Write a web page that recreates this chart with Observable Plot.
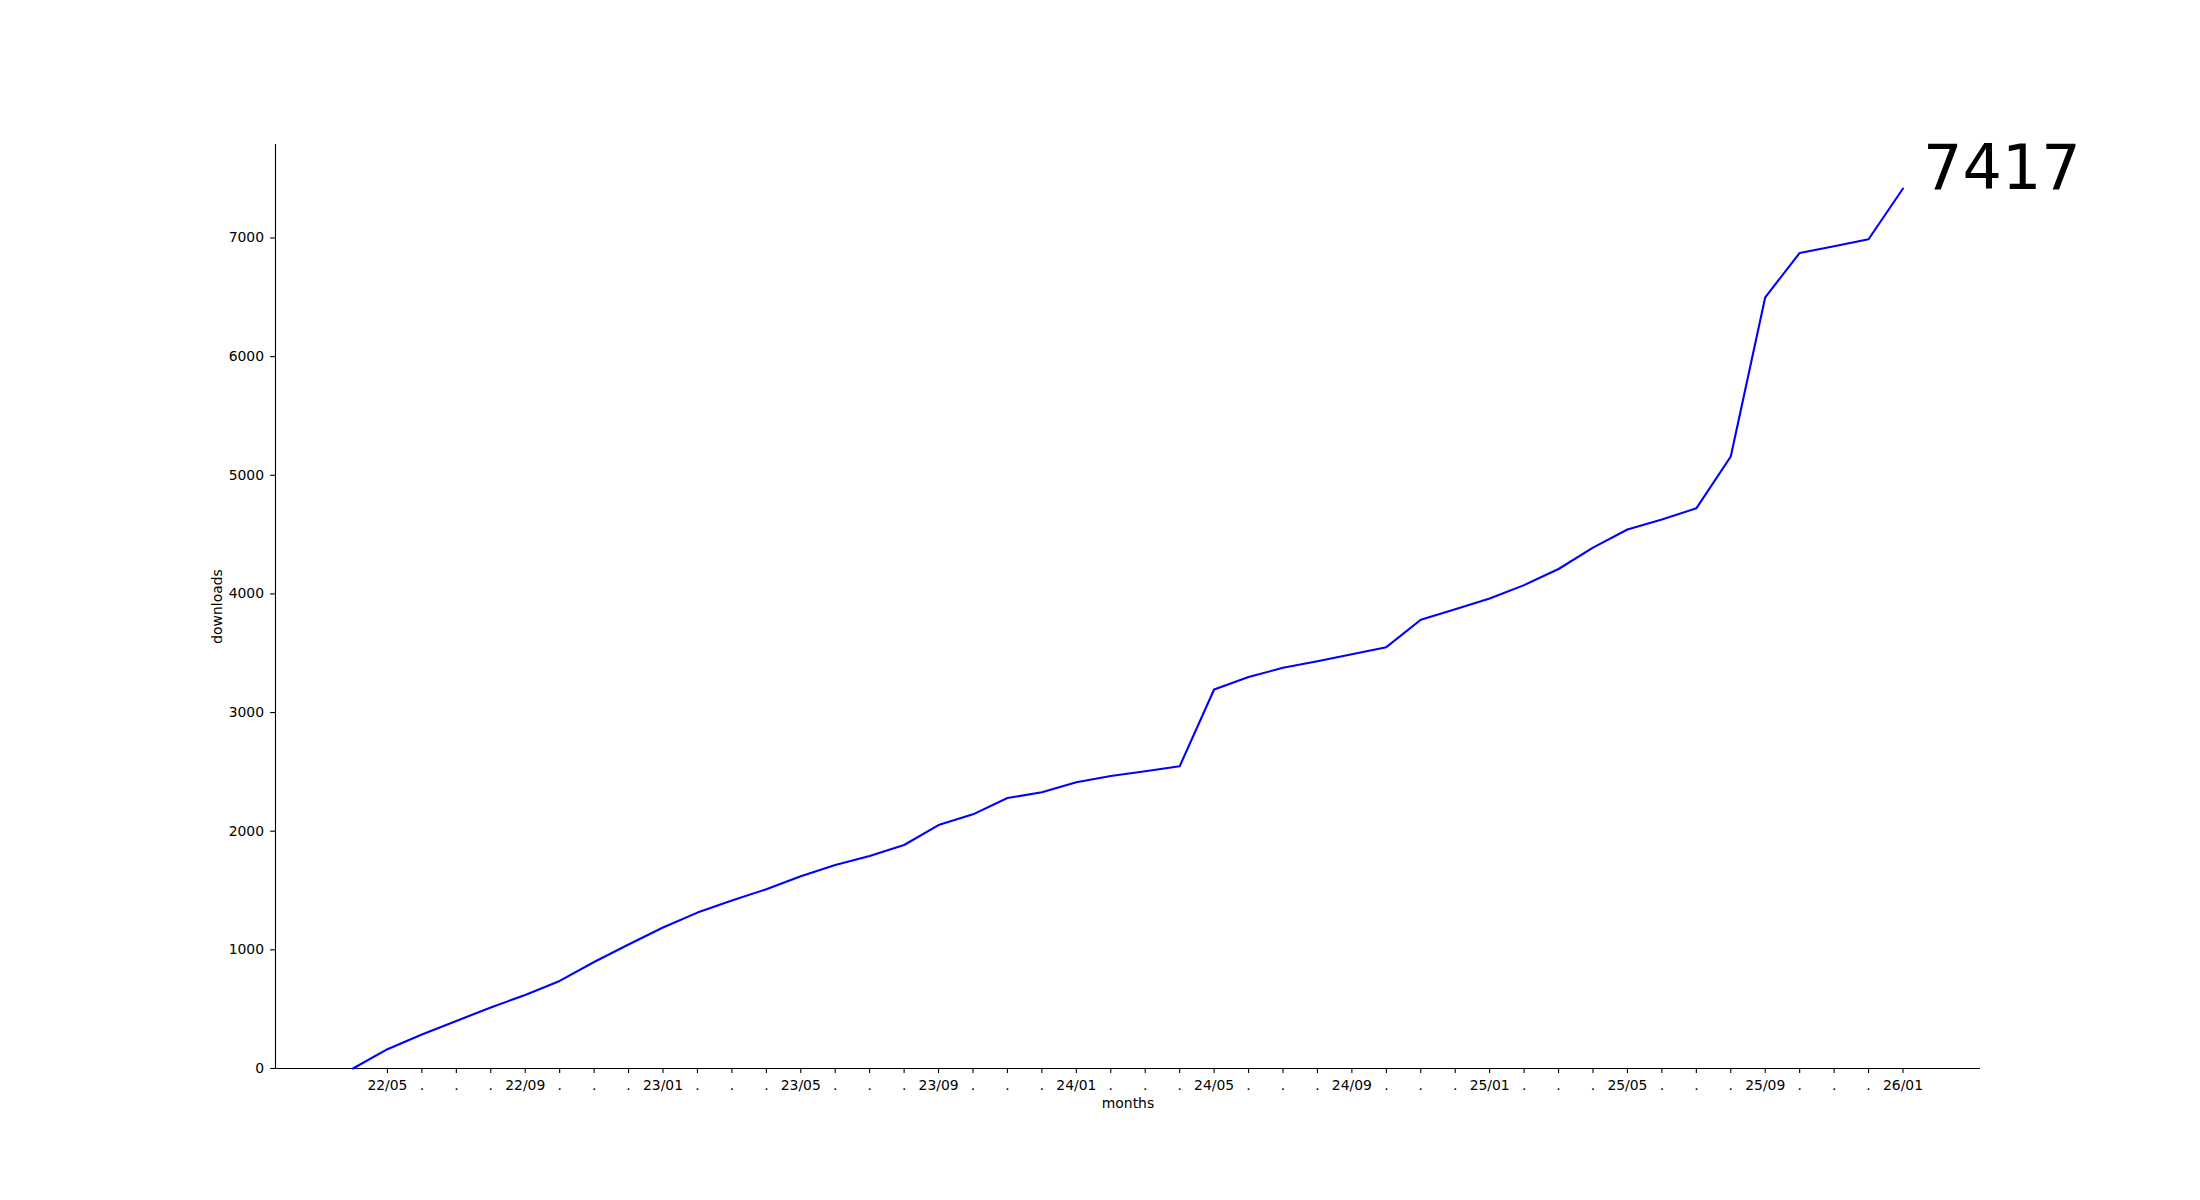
<!DOCTYPE html>
<html>
<head>
<meta charset="utf-8">
<script src="https://cdn.jsdelivr.net/npm/d3@7"></script>
<script src="https://cdn.jsdelivr.net/npm/@observablehq/plot@0.6"></script>
<style>
  html, body { margin: 0; padding: 0; background: white; }
  #chart svg { display: block; }
</style>
</head>
<body>
<div id="chart"></div>
<script>
const months = [
  "22/04","22/05","22/06","22/07","22/08","22/09","22/10","22/11","22/12",
  "23/01","23/02","23/03","23/04","23/05","23/06","23/07","23/08","23/09","23/10","23/11","23/12",
  "24/01","24/02","24/03","24/04","24/05","24/06","24/07","24/08","24/09","24/10","24/11","24/12",
  "25/01","25/02","25/03","25/04","25/05","25/06","25/07","25/08","25/09","25/10","25/11","25/12",
  "26/01"
];
const downloads = [
  0, 163, 286, 401, 514, 620, 738, 898, 1045,
  1188, 1314, 1415, 1511, 1620, 1715, 1791, 1884, 2052, 2142, 2280, 2328,
  2412, 2465, 2505, 2547, 3194, 3300, 3377, 3433, 3492, 3551, 3782, 3870,
  3961, 4074, 4210, 4390, 4543, 4627, 4721, 5158, 6500, 6874, 6931, 6989,
  7417
];
const yTicks = [0, 1000, 2000, 3000, 4000, 5000, 6000, 7000];
const xLabel = "months";
const yLabel = "downloads";

const data = months.map((m, i) => ({i, month: m, value: downloads[i]}));
const n = months.length - 1;
const xDomain = [-0.05 * n, n + 0.05 * n];
const yMax = d3.max(downloads);
const yDomain = [0, yMax + 0.05 * (yMax - d3.min(downloads))];
const xTicks = data.slice(1).map(d => d.i);
const xTickFormat = i => ((i - 1) % 4 === 0 ? months[i] : ".");
const last = data[data.length - 1];

const chart = Plot.plot({
  width: 2200,
  height: 1200,
  marginLeft: 275,
  marginRight: 220,
  marginTop: 144,
  marginBottom: 132,
  style: {fontFamily: "DejaVu Sans", fontSize: "13.9px", background: "white", color: "black"},
  x: {type: "linear", domain: xDomain},
  y: {type: "linear", domain: yDomain},
  marks: [
    Plot.axisX({ticks: xTicks, tickFormat: xTickFormat, tickSize: 4.9, tickPadding: 6.3, label: null, stroke: "black", strokeWidth: 1.1}),
    Plot.axisY({ticks: yTicks, tickFormat: d => String(d), tickSize: 4.9, tickPadding: 6.6, label: null, stroke: "black", strokeWidth: 1.1}),
    Plot.ruleX([xDomain[0]], {stroke: "black", strokeWidth: 1.1}),
    Plot.ruleY([yDomain[0]], {stroke: "black", strokeWidth: 1.1}),
    Plot.line(data, {x: "i", y: "value", stroke: "#0000ff", strokeWidth: 2.1}),
    Plot.text([last], {x: "i", y: "value", text: d => String(d.value), dx: 20, textAnchor: "start", lineAnchor: "bottom", fontSize: 62, fill: "black"}),
    Plot.text([yLabel], {text: d => d, frameAnchor: "left", textAnchor: "middle", lineAnchor: "middle", rotate: -90, dx: -58, fontSize: 13.9, fill: "black"}),
    Plot.text([xLabel], {text: d => d, frameAnchor: "bottom", textAnchor: "middle", lineAnchor: "middle", dy: 35, fontSize: 13.9, fill: "black"})
  ]
});
document.getElementById("chart").appendChild(chart);
</script>
</body>
</html>
